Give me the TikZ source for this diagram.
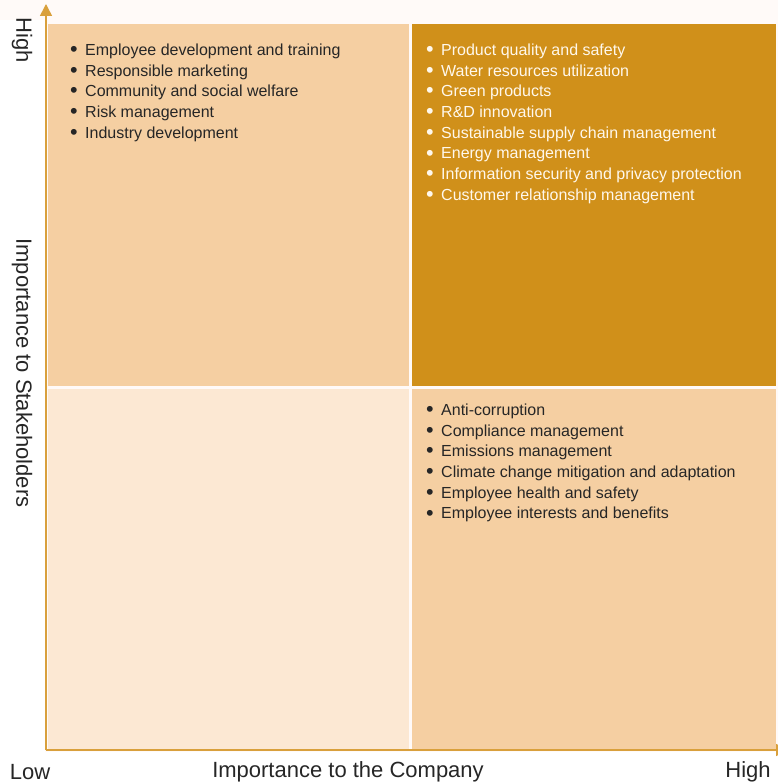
\documentclass[tikz,border=0pt]{standalone}
\usepackage{fontspec}
\setmainfont{Liberation Sans}
\usetikzlibrary{arrows.meta}
\definecolor{bgpink}{HTML}{FFFAF8}
\definecolor{peach}{HTML}{F5CFA2}
\definecolor{gold}{HTML}{D0901A}
\definecolor{pale}{HTML}{FCE8D3}
\definecolor{axisc}{HTML}{D9A03C}
\definecolor{txt}{HTML}{262626}
\definecolor{wtxt}{HTML}{FFF8EC}
\tikzset{
  quad/.style={draw=none, inner sep=0pt, outer sep=0pt},
  item/.style={anchor=base west, inner sep=0pt, font=\fontsize{16}{20}\selectfont, text=txt},
  witem/.style={item, text=wtxt},
  axlabel/.style={inner sep=0pt, font=\fontsize{22}{26}\selectfont, text=txt},
  axis/.style={draw=axisc, line width=1.6pt, -{Triangle[length=12pt,width=12pt]}}
}
\newcommand{\bul}{\makebox[15pt][l]{\raisebox{-1.2pt}{\scalebox{1.35}{\textbullet}}}}
\begin{document}
\begin{tikzpicture}[x=1pt,y=-1pt]
\useasboundingbox (0,0) rectangle (778,784);
\fill[bgpink] (0,0) rectangle (778,784);
\fill[white] (0,20) rectangle (45,784);
\fill[white] (45,752) rectangle (778,784);
% quadrants
\node[quad, fill=peach, minimum width=361pt, minimum height=361pt, anchor=north west] (tl) at (47.5,24.5) {};
\node[quad, fill=gold, minimum width=363.5pt, minimum height=361pt, anchor=north west] (tr) at (412,24.5) {};
\node[quad, fill=pale, minimum width=361pt, minimum height=361pt, anchor=north west] (bl) at (47.5,389) {};
\node[quad, fill=peach, minimum width=363.5pt, minimum height=361pt, anchor=north west] (br) at (412,389) {};
% axes
\coordinate (o) at (46,750);
\coordinate (ytop) at (46,4);
\coordinate (xend) at (788,750);
\draw[axis] (o) -- (ytop);
\draw[axis] (o) -- (xend);
% top-left items
\foreach \t [count=\i] in {Employee development and training, Responsible marketing, Community and social welfare, Risk management, Industry development}
  \node[item] (tl\i) at (70, 55.3+20.72*\i-20.72) {\bul\t};
% top-right items
\foreach \t [count=\i] in {Product quality and safety, Water resources utilization, Green products, R\&D innovation, Sustainable supply chain management, Energy management, Information security and privacy protection, Customer relationship management}
  \node[witem] (tr\i) at (426, 55.3+20.72*\i-20.72) {\bul\t};
% bottom-right items
\foreach \t [count=\i] in {Anti-corruption, Compliance management, Emissions management, Climate change mitigation and adaptation, Employee health and safety, Employee interests and benefits}
  \node[item] (br\i) at (426, 415.3+20.72*\i-20.72) {\bul\t};
% axis labels
\node[axlabel, rotate=-90] (yhigh) at (22,40) {High};
\node[axlabel, rotate=-90] (ylab) at (22,373) {Importance to Stakeholders};
\node[axlabel] (xlow) at (30,772) {Low};
\node[axlabel] (xlab) at (348,772) {Importance to the Company};
\node[axlabel] (xhigh) at (748,772) {High};
\end{tikzpicture}
\end{document}
